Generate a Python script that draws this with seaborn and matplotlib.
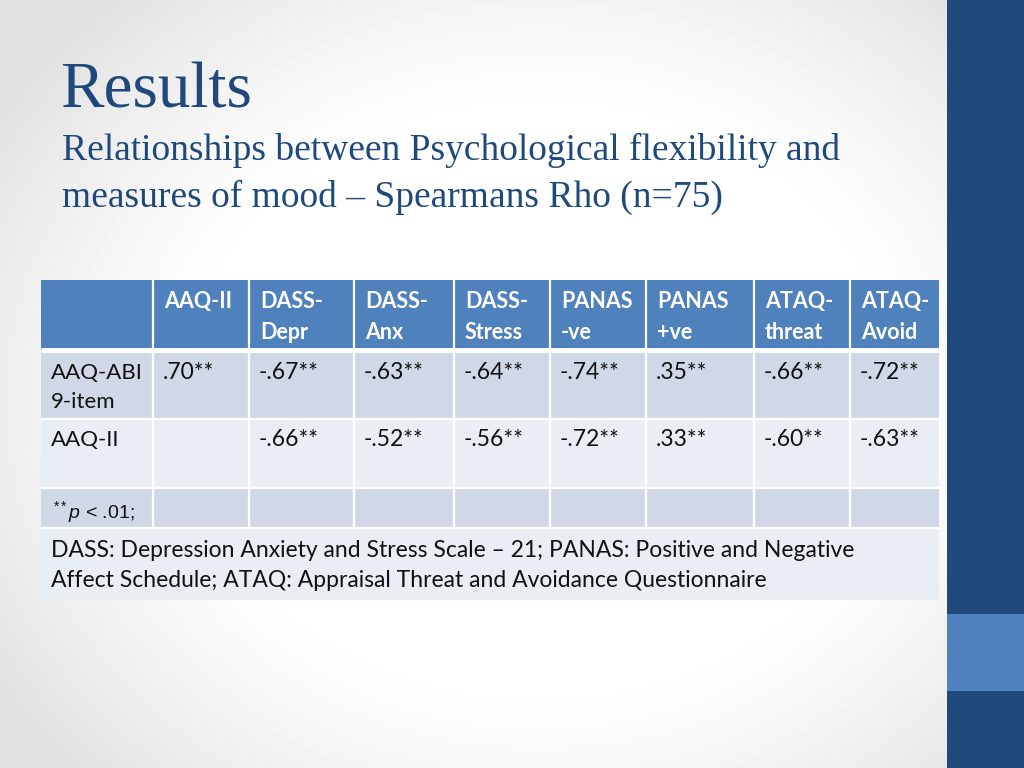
import numpy as np
import matplotlib.pyplot as plt
from matplotlib.colors import ListedColormap
import seaborn as sns

col_labels = ['', 'AAQ-II', 'DASS-\nDepr', 'DASS-\nAnx', 'DASS-\nStress',
              'PANAS\n-ve', 'PANAS\n+ve', 'ATAQ-\nthreat', 'ATAQ-\nAvoid']
row_labels = ['AAQ-ABI\n9-item', 'AAQ-II']
rho_abi = ['.70**', '-.67**', '-.63**', '-.64**', '-.74**', '.35**', '-.66**', '-.72**']
rho_aaq = ['', '-.66**', '-.52**', '-.56**', '-.72**', '.33**', '-.60**', '-.63**']
sig_note = r'$^{**}p$ < .01;'
abbrev_note = ('DASS: Depression Anxiety and Stress Scale \u2013 21; PANAS: Positive and Negative\n'
               'Affect Schedule; ATAQ: Appraisal Threat and Avoidance Questionnaire')
title = 'Results'
subtitle = ('Relationships between Psychological flexibility and\n'
            'measures of mood \u2013 Spearmans Rho (n=75)')

# layout (pixels)
col_w = [112, 96, 105, 100, 96, 96, 108, 96, 89]
row_h = [70, 69, 69, 40, 72]
row_band = [0, 1, 2, 1, 2]

sns.set_theme(style='white')
plt.rcParams['mathtext.fontset'] = 'custom'
plt.rcParams['mathtext.rm'] = 'Liberation Sans'
plt.rcParams['mathtext.it'] = 'Liberation Sans:italic'

fig = plt.figure(figsize=(10.24, 7.68), dpi=100)


def lines(ax, x, y0, text, step, **kw):
    # one text per line so every baseline sits where it should
    for k, s in enumerate(text.split('\n')):
        ax.text(x, y0 + k * step, s, va='baseline', **kw)


# slide background
bg = fig.add_axes([0, 0, 1, 1])
bg.axis('off')
yy, xx = np.mgrid[0:768, 0:948]
r = np.sqrt(((xx - 540) / 560) ** 2 + ((yy - 400) / 470) ** 2)
shade = 1 - 0.12 * np.clip((r - 0.6) / 0.55, 0, 1) ** 1.3
bg.imshow(shade, cmap='gray', vmin=0, vmax=1, extent=(0, 948, 768, 0), aspect='auto')
bg.axvspan(947, 1024, color='#214A7C', lw=0)
bg.fill_between([947, 1024], 614, 691, color='#4F81BD', lw=0)
bg.set_xlim(0, 1024)
bg.set_ylim(768, 0)

bg.text(60, 107, title, fontsize=47, family='Liberation Serif', color='#1F497D', va='baseline')
lines(bg, 62, 160, subtitle, 47, fontsize=27, family='Liberation Serif', color='#1F497D')

# table
tw, th = sum(col_w), sum(row_h)
ax = fig.add_axes([41 / 1024, 1 - (280 + th) / 768, tw / 1024, th / 768])
codes = np.repeat(np.array(row_band), row_h)[:, None] * np.ones((1, tw))
sns.heatmap(codes, ax=ax, cmap=ListedColormap(['#4F81BD', '#D0D8E8', '#E9EDF4']),
            vmin=-0.5, vmax=2.5, cbar=False, xticklabels=False, yticklabels=False)
ax.set_xlim(0, tw)
ax.set_ylim(th, 0)

xe = np.concatenate([[0], np.cumsum(col_w)])
ye = np.concatenate([[0], np.cumsum(row_h)])
ax.vlines(xe[1:-1], 0, ye[4], color='white', lw=1.6)
ax.hlines(ye[1], 0, tw, color='white', lw=3.5)
ax.hlines(ye[2:5], 0, tw, color='white', lw=1.6)

body = dict(family='Lato', fontsize=16.5, color='#111111')
for i, lab in enumerate(col_labels):
    lines(ax, xe[i] + 11, 28, lab, 31, family='Lato', fontsize=15.5, fontweight='bold',
          color='white')
lines(ax, 10, 99, row_labels[0], 29, fontsize=16, family='Lato', color='#111111')
lines(ax, 10, 166, row_labels[1], 29, fontsize=16, family='Lato', color='#111111')
for j in range(8):
    ax.text(xe[j + 1] + 10, 99, rho_abi[j], va='baseline', **body)
    ax.text(xe[j + 1] + 10, 166, rho_aaq[j], va='baseline', **body)
ax.text(12, 238, sig_note, family='Liberation Sans', fontsize=14, va='baseline',
        color='#111111')
lines(ax, 10, 277, abbrev_note, 30, **body)

fig.savefig('out.png', dpi=100)
